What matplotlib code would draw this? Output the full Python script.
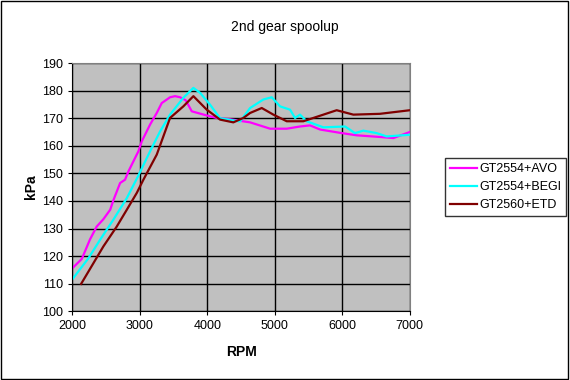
import matplotlib
matplotlib.use("Agg")
import matplotlib.pyplot as plt

# boost curves (rpm, kPa)
avo_rpm = [2000, 2140, 2260, 2360, 2460, 2560, 2610, 2707, 2780, 2830, 2978, 3028, 3151, 3250,
           3324, 3447, 3521, 3596, 3680, 3769, 3991, 4139, 4341, 4633, 4930, 5176, 5373, 5521,
           5670, 5966, 6213, 6558, 6756, 7000]
avo_kpa = [115.6, 119, 126, 130.7, 133.4, 136.8, 140.4, 146.5, 147.7, 150.7, 158, 161.6, 167.7,
           171.9, 175.5, 177.6, 178, 177.6, 176.5, 172.5, 171, 170.1, 169.6, 168.5, 166.2, 166.2,
           167, 167.4, 165.9, 164.7, 163.8, 163.2, 162.8, 165]

begi_rpm = [2000, 2237, 2410, 2607, 2806, 2963, 3151, 3299, 3447, 3644, 3793, 3892, 4040, 4188,
            4484, 4633, 4830, 4954, 5077, 5225, 5299, 5373, 5472, 5719, 6040, 6188, 6311, 6508,
            6656, 7000]
begi_kpa = [111.6, 119.2, 125.9, 133.2, 141, 148.5, 158, 165.2, 171.3, 177.4, 181, 179.2, 174.9,
            170, 168.8, 173.7, 176.8, 177.6, 174.3, 173.1, 170.1, 171.3, 168.9, 166.7, 167, 164.6,
            165.5, 164.6, 163.4, 164]

etd_rpm = [2129, 2311, 2459, 2657, 2806, 2954, 3052, 3250, 3447, 3644, 3793, 3991, 4188, 4385,
           4533, 4633, 4806, 4978, 5176, 5422, 5719, 5916, 6163, 6558, 7000]
etd_kpa = [109.9, 117.4, 123.5, 130.7, 136.8, 142.9, 147.7, 156.8, 170.1, 174.3, 178, 173.1,
           169.5, 168.5, 170.1, 171.9, 173.7, 171.3, 168.9, 168.9, 171.3, 172.9, 171.3, 171.6, 172.9]

series_names = ["GT2554+AVO", "GT2554+BEGI", "GT2560+ETD"]

plt.rcParams["font.family"] = ["Liberation Sans", "DejaVu Sans"]

fig = plt.figure(figsize=(5.7, 3.8), dpi=100)
ax = fig.add_axes([0.127, 0.181, 0.592, 0.653])
ax.set_facecolor("#C0C0C0")

ax.plot(avo_rpm, avo_kpa, color="#FF00FF", lw=1.6, label=series_names[0])
ax.plot(begi_rpm, begi_kpa, color="#00FFFF", lw=1.6, label=series_names[1])
ax.plot(etd_rpm, etd_kpa, color="#800000", lw=1.6, label=series_names[2])

ax.set_xlim(2000, 7000)
ax.set_ylim(100, 190)
ax.set_xticks(range(2000, 7001, 1000))
ax.set_yticks(range(100, 191, 10))
ax.grid(True, color="black", lw=1)
ax.set_axisbelow(True)
ax.tick_params(labelsize=9, length=3, color="black")
for s in ["top", "right"]:
    ax.spines[s].set_color("#808080")
for s in ["left", "bottom"]:
    ax.spines[s].set_color("black")

ax.set_xlabel("RPM", fontsize=10, fontweight="bold", labelpad=9)
ax.set_ylabel("kPa", fontsize=10, fontweight="bold", labelpad=3)
fig.text(0.5, 0.93, "2nd gear spoolup", ha="center", va="center", fontsize=10)

leg = ax.legend(loc="center left", bbox_to_anchor=(1.105, 0.5), fontsize=9, frameon=True,
                fancybox=False, edgecolor="black", borderpad=0.4, handlelength=2.1,
                handletextpad=0.2, labelspacing=0.5, borderaxespad=0)
leg.get_frame().set_linewidth(1)

fig.patches.append(plt.Rectangle((0.002, 0.003), 0.995, 0.994, transform=fig.transFigure,
                                 fill=False, edgecolor="black", lw=1))

fig.savefig("out.png", dpi=100)
